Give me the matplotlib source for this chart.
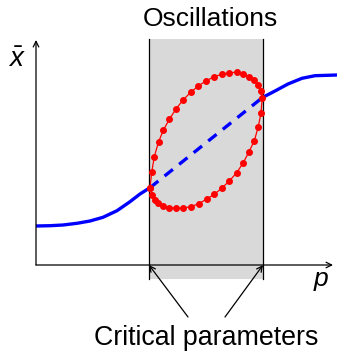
import matplotlib
matplotlib.use("Agg")
import matplotlib.pyplot as plt

plt.rcParams['font.family'] = ['Liberation Sans', 'DejaVu Sans']
plt.rcParams['mathtext.fontset'] = 'custom'
plt.rcParams['mathtext.it'] = 'Liberation Sans:italic'
plt.rcParams['mathtext.rm'] = 'Liberation Sans'

# stable branch (solid)
p_left = [0, 14, 27, 41, 54, 67, 81, 94, 104, 114]
x_left = [39, 39.3, 40, 41.7, 44, 47.7, 54.3, 63.3, 71, 77.3]
p_right = [226.5, 239, 252, 266, 279, 301]
x_right = [167.5, 174, 181, 186.7, 189.3, 190]
# unstable branch (dashed)
p_unst = [114, 226.5]
x_unst = [77.3, 167.5]

# limit cycle points
p_cyc = [114, 115.7, 118.3, 122.5, 127.3, 133.3, 140, 147, 154.7, 162.3,
         170.3, 178.3, 185.7, 193.3, 200.7, 207.3, 213.3, 218.3, 222.3, 224.7,
         226.3, 225, 222.3, 218.3, 213, 207.3, 200.7, 193.3, 185.7, 178.3,
         170.5, 162.7, 154.7, 147.3, 140, 133.3, 127.3, 122.3, 119, 116, 114]
x_cyc = [77.3, 92.7, 108.3, 123, 134.7, 145.7, 156, 165, 172.7, 179,
         184.3, 188.3, 190.7, 192.3, 192.7, 191, 188.3, 185, 180, 174,
         167.3, 152.3, 138.3, 124.3, 113.3, 102.3, 92.3, 84, 76.7, 70.7,
         65.8, 61.3, 58.3, 57, 56.7, 57.3, 59, 61.7, 65, 70, 77.3]

# critical parameters
p_crit = [113, 227]

fig = plt.figure(figsize=(3.37, 3.52), dpi=100)
ax = fig.add_axes([0, 0, 1, 1])
ax.set_xlim(-36, 301)
ax.set_ylim(-87, 265)
ax.axis('off')

# oscillation region
ax.axvspan(p_crit[0], p_crit[1], ymin=(-14 + 87) / 352, ymax=(226 + 87) / 352,
           color='#d9d9d9', lw=0, zorder=0)
for pc in p_crit:
    ax.plot([pc, pc], [-14, 226], color='black', lw=0.9, zorder=1)

# axes with arrows
ax.annotate('', xy=(0, 225), xytext=(0, 0),
            arrowprops=dict(arrowstyle='->', lw=0.9, color='black',
                            shrinkA=0, shrinkB=0))
ax.annotate('', xy=(297, 0), xytext=(0, 0),
            arrowprops=dict(arrowstyle='->', lw=0.9, color='black',
                            shrinkA=0, shrinkB=0))

ax.plot(p_left, x_left, color='blue', lw=2.4, solid_capstyle='butt', zorder=2)
ax.plot(p_right, x_right, color='blue', lw=2.4, solid_capstyle='butt', zorder=2)
ax.plot(p_unst, x_unst, color='blue', lw=2.4, dashes=(3.2, 2.4), zorder=2)
ax.plot(p_cyc, x_cyc, color='red', lw=0.9, marker='o', markersize=4, zorder=3)

ax.text(-19, 198, r'$\bar{x}$', fontsize=20, ha='center', va='baseline')
ax.text(285, -21, r'$p$', fontsize=19, ha='center', va='baseline')
ax.text(174, 238.5, 'Oscillations', fontsize=19, ha='center', va='baseline')
ax.text(170.5, -80, 'Critical parameters', fontsize=19.3, ha='center', va='baseline')

for pc, ps in zip(p_crit, [152, 189]):
    ax.annotate('', xy=(pc, 0), xytext=(ps, -52),
                arrowprops=dict(arrowstyle='->', lw=0.9, color='black',
                                shrinkA=0, shrinkB=0))

fig.savefig('out.png', dpi=100)
